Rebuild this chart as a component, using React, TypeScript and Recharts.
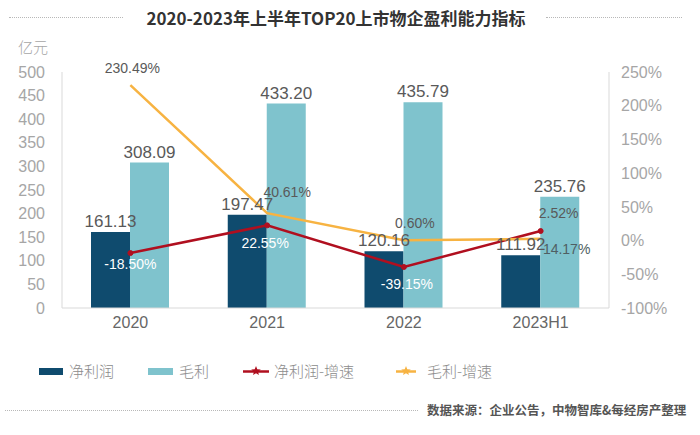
import React from 'react';
import { ComposedChart, Bar, Line, XAxis, YAxis, LabelList } from 'recharts';

const years = ['2020', '2021', '2022', '2023H1'];
const netProfit = [161.13, 197.47, 120.16, 111.92];
const grossProfit = [308.09, 433.2, 435.79, 235.76];
const netGrowth = [-18.5, 22.55, -39.15, 14.17];
const grossGrowth = [230.49, 40.61, 0.6, 2.52];
const leftTicks = [0, 50, 100, 150, 200, 250, 300, 350, 400, 450, 500];
const rightTicks = [-100, -50, 0, 50, 100, 150, 200, 250];

const data = years.map((y, i) => ({
  year: y,
  net: netProfit[i],
  gross: grossProfit[i],
  netG: netGrowth[i],
  grossG: grossGrowth[i],
}));

const FONT = "'Liberation Sans', 'Noto Sans CJK SC', sans-serif";
const CJK = "'Noto Sans CJK SC', 'Liberation Sans', sans-serif";
const DARK = '#0f4b6e';
const LIGHT = '#7fc3cd';
const RED = '#b00f1f';
const ORANGE = '#f7b342';

const grossDx = [2, 20, 11, 18];
const grossDy = [-17, -21, -17, -26];
const netDx = [0, -2, 3, 26];
const netDy = [11, 18, 17, 18];

const GrossLabel = (props: any) => {
  const { x, y, value, index } = props;
  return (
    <text x={x + grossDx[index]} y={y + grossDy[index]} textAnchor="middle" dominantBaseline="central"
      fill="#595959" fontSize={14} fontFamily={FONT}>
      {Number(value).toFixed(2)}%
    </text>
  );
};

const NetLabel = (props: any) => {
  const { x, y, value, index } = props;
  return (
    <text x={x + netDx[index]} y={y + netDy[index]} textAnchor="middle" dominantBaseline="central"
      fill={index < 3 ? '#ffffff' : '#4f5f63'} fontSize={14} fontFamily={FONT}>
      {value < 0 ? '-' : ''}{Math.abs(Number(value)).toFixed(2)}%
    </text>
  );
};

const Star = ({ cx, cy, color }: any) => {
  const pts: string[] = [];
  for (let i = 0; i < 10; i++) {
    const r = i % 2 === 0 ? 5 : 2.2;
    const a = -Math.PI / 2 + (i * Math.PI) / 5;
    pts.push(`${cx + r * Math.cos(a)},${cy + r * Math.sin(a)}`);
  }
  return <polygon points={pts.join(' ')} fill={color} />;
};

const LegendBlock = () => {
  const textStyle: React.CSSProperties = {
    position: 'absolute', top: 0, fontSize: 15, color: '#8c8c8c', fontFamily: CJK, lineHeight: '20px', whiteSpace: 'nowrap', fontWeight: 300,
  };
  return (
    <div style={{ position: 'absolute', left: 0, top: 361, width: 700, height: 20 }}>
      <div style={{ position: 'absolute', left: 39, top: 7, width: 24, height: 7, background: DARK }} />
      <span style={{ ...textStyle, left: 69 }}>净利润</span>
      <div style={{ position: 'absolute', left: 148, top: 7, width: 25, height: 7, background: LIGHT }} />
      <span style={{ ...textStyle, left: 179 }}>毛利</span>
      <svg style={{ position: 'absolute', left: 242, top: 0 }} width={28} height={20}>
        <line x1={1} y1={10.5} x2={27} y2={10.5} stroke={RED} strokeWidth={2.5} />
        <Star cx={14} cy={10} color={RED} />
      </svg>
      <span style={{ ...textStyle, left: 274 }}>净利润-增速</span>
      <svg style={{ position: 'absolute', left: 395, top: 0 }} width={22} height={20}>
        <line x1={1} y1={10.5} x2={21} y2={10.5} stroke={ORANGE} strokeWidth={2.5} />
        <Star cx={11} cy={10} color={ORANGE} />
      </svg>
      <span style={{ ...textStyle, left: 427 }}>毛利-增速</span>
    </div>
  );
};

export default function App() {
  return (
    <div style={{ position: 'absolute', left: 0, top: 0, width: 700, height: 435, background: '#fff', fontFamily: FONT }}>
      <div style={{ position: 'absolute', left: 9, top: 17, width: 114, borderTop: '1px dotted #b8b8b8' }} />
      <div style={{ position: 'absolute', left: 546, top: 17, width: 136, borderTop: '1px dotted #b8b8b8' }} />
      <div style={{ position: 'absolute', left: 0, top: 6, width: 672, textAlign: 'center', fontSize: 17, fontWeight: 'bold', color: '#333', fontFamily: CJK, lineHeight: '24px' }}>
        2020-2023年上半年TOP20上市物企盈利能力指标
      </div>
      <div style={{ position: 'absolute', left: 18, top: 37, fontSize: 15, color: '#a6a6a6', fontFamily: CJK, lineHeight: '20px', fontWeight: 300 }}>亿元</div>
      <div style={{ position: 'absolute', left: 5, top: 410, width: 413, borderTop: '1px dotted #b8b8b8' }} />
      <div style={{ position: 'absolute', left: 427, top: 401, fontSize: 12.5, fontWeight: 'bold', color: '#555', fontFamily: CJK, lineHeight: '18px', whiteSpace: 'nowrap' }}>
        数据来源：企业公告，中物智库&amp;每经房产整理
      </div>
      <ComposedChart width={700} height={435} data={data} margin={{ top: 72, right: 11, bottom: 97, left: 12 }}
        barGap={0} style={{ position: 'absolute', left: 0, top: 0 }}>
        <XAxis dataKey="year" height={30} tickLine={false} axisLine={{ stroke: '#d9d9d9' }}
          tick={{ fontSize: 16, fill: '#666', fontFamily: FONT }} tickMargin={3} />
        <YAxis yAxisId="left" width={50} domain={[0, 500]} ticks={leftTicks} tickLine={false}
          axisLine={{ stroke: '#d9d9d9' }} tick={{ fontSize: 16, fill: '#a6a6a6', fontFamily: FONT }} tickMargin={11} interval={0} />
        <YAxis yAxisId="right" orientation="right" width={80} domain={[-100, 250]} ticks={rightTicks} tickLine={false}
          axisLine={{ stroke: '#d9d9d9' }} tick={{ fontSize: 16, fill: '#a6a6a6', fontFamily: FONT }} tickMargin={6} interval={0}
          tickFormatter={(v: number) => `${v}%`} />
        <Bar yAxisId="left" dataKey="net" fill={DARK} barSize={39} isAnimationActive={false}>
          <LabelList dataKey="net" position="top" offset={5} fill="#595959" fontSize={17} fontFamily={FONT}
            formatter={(v: any) => Number(v).toFixed(2)} />
        </Bar>
        <Bar yAxisId="left" dataKey="gross" fill={LIGHT} barSize={39} isAnimationActive={false}>
          <LabelList dataKey="gross" position="top" offset={5} fill="#595959" fontSize={17} fontFamily={FONT}
            formatter={(v: any) => Number(v).toFixed(2)} />
        </Bar>
        <Line yAxisId="right" dataKey="netG" stroke={RED} strokeWidth={2.5} isAnimationActive={false}
          dot={{ r: 2.5, fill: RED, stroke: RED, strokeWidth: 1 }}>
          <LabelList dataKey="netG" content={NetLabel} />
        </Line>
        <Line yAxisId="right" dataKey="grossG" stroke={ORANGE} strokeWidth={2.5} isAnimationActive={false} dot={false}>
          <LabelList dataKey="grossG" content={GrossLabel} />
        </Line>
      </ComposedChart>
      <LegendBlock />
    </div>
  );
}
